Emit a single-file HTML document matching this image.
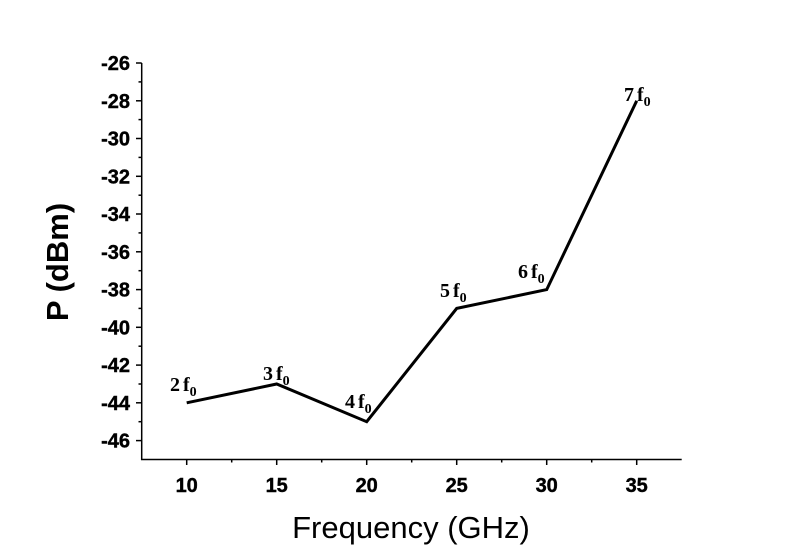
<!DOCTYPE html>
<html><head><style>body{margin:0;background:#fff}</style></head><body>
<svg width="790" height="551" xmlns="http://www.w3.org/2000/svg">
<rect width="790" height="551" fill="#fff"/>
<g stroke="#000" stroke-width="1.5" fill="none">
<line x1="141.7" y1="63" x2="141.7" y2="460"/>
<line x1="141" y1="459.5" x2="681.7" y2="459.5"/>
</g>
<g stroke="#000" stroke-width="1.5">
<line x1="136" x2="141.7" y1="63" y2="63"/><line x1="138.5" x2="141.7" y1="81.9" y2="81.9"/>
<line x1="136" x2="141.7" y1="100.8" y2="100.8"/><line x1="138.5" x2="141.7" y1="119.6" y2="119.6"/>
<line x1="136" x2="141.7" y1="138.5" y2="138.5"/><line x1="138.5" x2="141.7" y1="157.4" y2="157.4"/>
<line x1="136" x2="141.7" y1="176.3" y2="176.3"/><line x1="138.5" x2="141.7" y1="195.2" y2="195.2"/>
<line x1="136" x2="141.7" y1="214" y2="214"/><line x1="138.5" x2="141.7" y1="232.9" y2="232.9"/>
<line x1="136" x2="141.7" y1="251.8" y2="251.8"/><line x1="138.5" x2="141.7" y1="270.7" y2="270.7"/>
<line x1="136" x2="141.7" y1="289.6" y2="289.6"/><line x1="138.5" x2="141.7" y1="308.4" y2="308.4"/>
<line x1="136" x2="141.7" y1="327.3" y2="327.3"/><line x1="138.5" x2="141.7" y1="346.2" y2="346.2"/>
<line x1="136" x2="141.7" y1="365.1" y2="365.1"/><line x1="138.5" x2="141.7" y1="384" y2="384"/>
<line x1="136" x2="141.7" y1="402.8" y2="402.8"/><line x1="138.5" x2="141.7" y1="421.7" y2="421.7"/>
<line x1="136" x2="141.7" y1="440.6" y2="440.6"/>
<line y1="459.5" y2="465" x1="186.7" x2="186.7"/><line y1="459.5" y2="462.5" x1="231.7" x2="231.7"/>
<line y1="459.5" y2="465" x1="276.7" x2="276.7"/><line y1="459.5" y2="462.5" x1="321.7" x2="321.7"/>
<line y1="459.5" y2="465" x1="366.7" x2="366.7"/><line y1="459.5" y2="462.5" x1="411.7" x2="411.7"/>
<line y1="459.5" y2="465" x1="456.7" x2="456.7"/><line y1="459.5" y2="462.5" x1="501.7" x2="501.7"/>
<line y1="459.5" y2="465" x1="546.7" x2="546.7"/><line y1="459.5" y2="462.5" x1="591.7" x2="591.7"/>
<line y1="459.5" y2="465" x1="636.7" x2="636.7"/>
</g>
<g font-family="Liberation Sans, sans-serif" font-weight="bold" font-size="20" text-anchor="end" stroke="#000" stroke-width="0.4">
<text x="130" y="70">-26</text><text x="130" y="107.8">-28</text><text x="130" y="145.5">-30</text>
<text x="130" y="183.3">-32</text><text x="130" y="221">-34</text><text x="130" y="258.8">-36</text>
<text x="130" y="296.6">-38</text><text x="130" y="334.3">-40</text><text x="130" y="372.1">-42</text>
<text x="130" y="409.8">-44</text><text x="130" y="447.6">-46</text>
</g>
<g font-family="Liberation Sans, sans-serif" font-weight="bold" font-size="20" text-anchor="middle" stroke="#000" stroke-width="0.4">
<text x="186.7" y="492">10</text><text x="276.7" y="492">15</text><text x="366.7" y="492">20</text>
<text x="456.7" y="492">25</text><text x="546.7" y="492">30</text><text x="636.7" y="492">35</text>
</g>
<text x="411" y="538" font-family="Liberation Sans, sans-serif" font-size="31" text-anchor="middle">Frequency (GHz)</text>
<text transform="translate(68,262) rotate(-90)" font-family="Liberation Sans, sans-serif" font-weight="bold" font-size="31" text-anchor="middle">P (dBm)</text>
<polyline fill="none" stroke="#000" stroke-width="3" stroke-linejoin="miter" points="186.7,402.8 276.7,384 366.7,421.7 456.7,308.4 546.7,289.6 636.7,100.8"/>
<g font-family="Liberation Serif, serif" font-weight="bold" font-size="20">
<text x="170" y="391">2<tspan dx="3">f</tspan><tspan font-size="14" dy="5">0</tspan></text>
<text x="263" y="380">3<tspan dx="3">f</tspan><tspan font-size="14" dy="5">0</tspan></text>
<text x="345" y="408">4<tspan dx="3">f</tspan><tspan font-size="14" dy="5">0</tspan></text>
<text x="440" y="297">5<tspan dx="3">f</tspan><tspan font-size="14" dy="5">0</tspan></text>
<text x="518" y="278">6<tspan dx="3">f</tspan><tspan font-size="14" dy="5">0</tspan></text>
<text x="624" y="101">7<tspan dx="3">f</tspan><tspan font-size="14" dy="5">0</tspan></text>
</g>
</svg>
</body></html>
